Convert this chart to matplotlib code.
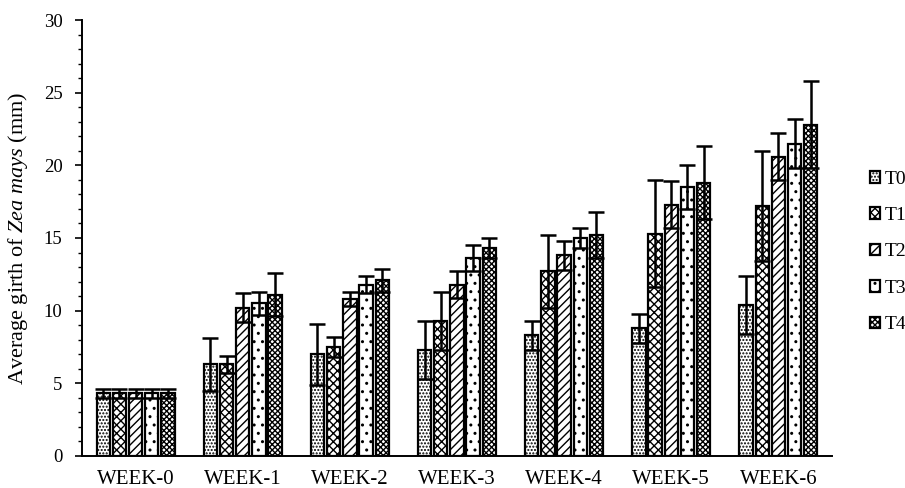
import numpy as np
import matplotlib
matplotlib.use("Agg")
import matplotlib.pyplot as plt

plt.rcParams['font.family'] = ['Liberation Serif', 'DejaVu Serif']
plt.rcParams['mathtext.fontset'] = 'custom'
plt.rcParams['mathtext.rm'] = 'Liberation Serif'
plt.rcParams['mathtext.it'] = 'Liberation Serif:italic'
plt.rcParams['hatch.linewidth'] = 1.0

weeks = ['WEEK-0', 'WEEK-1', 'WEEK-2', 'WEEK-3', 'WEEK-4', 'WEEK-5', 'WEEK-6']
treatments = ['T0', 'T1', 'T2', 'T3', 'T4']

# mean girth (mm) per treatment, one value per week
t0 = [4.3, 6.3, 7.0, 7.3, 8.3, 8.8, 10.4]
t1 = [4.3, 6.3, 7.5, 9.3, 12.7, 15.3, 17.2]
t2 = [4.3, 10.2, 10.8, 11.8, 13.8, 17.3, 20.6]
t3 = [4.3, 10.5, 11.8, 13.6, 15.0, 18.5, 21.5]
t4 = [4.3, 11.1, 12.1, 14.3, 15.2, 18.8, 22.8]

# error bar sizes
e0 = [0.3, 1.8, 2.1, 2.0, 1.0, 1.0, 2.0]
e1 = [0.3, 0.6, 0.7, 2.0, 2.5, 3.7, 3.8]
e2 = [0.3, 1.0, 0.5, 0.9, 1.0, 1.6, 1.6]
e3 = [0.3, 0.8, 0.6, 0.9, 0.7, 1.5, 1.7]
e4 = [0.3, 1.5, 0.8, 0.7, 1.6, 2.5, 3.0]

means = [t0, t1, t2, t3, t4]
errs = [e0, e1, e2, e3, e4]
hatches = ['.....', 'xxxx', '////', '..', 'xxxxxx']

fig = plt.figure(figsize=(9.05, 4.88), dpi=100)
ax = fig.add_axes([0.0906, 0.0656, 0.8287, 0.8934])

x = np.arange(len(weeks))
pitch = 0.151
for i in range(len(treatments)):
    pos = x + (i - 2) * pitch
    ax.bar(pos, means[i], width=0.125, color='white', edgecolor='black',
           linewidth=1.6, hatch=hatches[i], label=treatments[i], zorder=2)
    ax.errorbar(pos, means[i], yerr=errs[i], fmt='none', ecolor='black',
                elinewidth=1.8, capsize=6, capthick=1.8, zorder=3)

ax.set_xlim(-0.5, 6.5)
ax.set_ylim(0, 30)
ax.set_yticks(np.arange(0, 31, 5))
ax.set_yticks(np.arange(0, 31, 1), minor=True)
ax.set_xticks(x)
ax.set_xticklabels(weeks, fontsize=15)
ax.tick_params(axis='x', length=0, pad=10)
ax.tick_params(axis='y', which='major', length=5, width=1.2, labelsize=13.5, pad=9)
ax.tick_params(axis='y', which='minor', length=3, width=1.0)
ax.spines['top'].set_visible(False)
ax.spines['right'].set_visible(False)
ax.spines['left'].set_linewidth(1.4)
ax.spines['bottom'].set_linewidth(1.4)
ax.set_ylabel(r'Average girth of $\it{Zea\ mays}$ (mm)', fontsize=16, labelpad=10)

fig.legend(loc='center left', bbox_to_anchor=(860 / 905, 1 - 252 / 488), frameon=False,
           fontsize=14, handlelength=0.55, handleheight=0.55, labelspacing=1.0,
           handletextpad=0.2, borderpad=0)

fig.savefig('out.png', dpi=100)
